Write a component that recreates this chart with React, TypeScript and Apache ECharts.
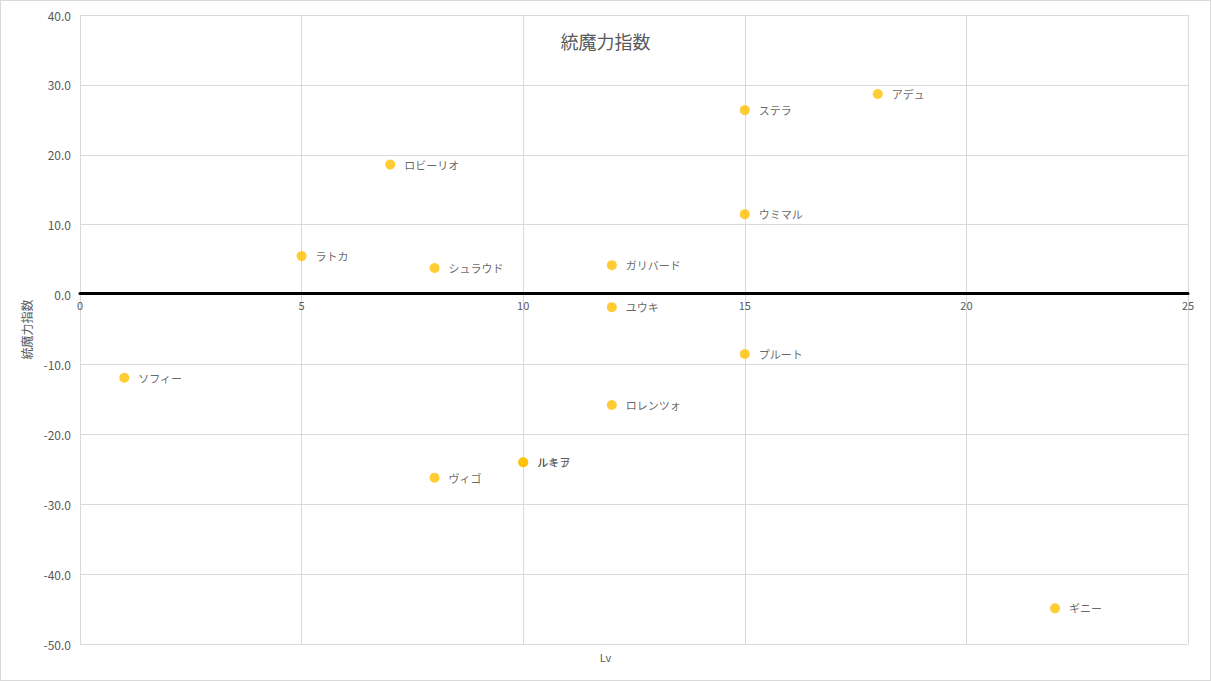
import { useEffect, useRef } from 'react';
import * as echarts from 'echarts';

const names = [
  'ソフィー', 'ラトカ', 'ロビーリオ', 'シュラウド', 'ヴィゴ', 'ルキア', 'ルミラ',
  'ガリバード', 'ユウキ', 'ロレンツォ', 'ステラ', 'ウミマル', 'プルート', 'アデュ', 'ギニー',
];
const levels = [1, 5, 7, 8, 8, 10, 10, 12, 12, 12, 15, 15, 15, 18, 22];
const scores = [-11.9, 5.5, 18.6, 3.8, -26.2, -24.0, -24.0, 4.2, -1.8, -15.8, 26.4, 11.5, -8.5, 28.7, -44.9];

const FONT = '"Noto Sans CJK JP", "Noto Sans", sans-serif';

const Y_MIN = -50;
const Y_MAX = 40;
const GRID_TOP = 14;
const GRID_BOTTOM = 36;
const HEIGHT = 681;

export default function App() {
  const chartRef = useRef<HTMLDivElement>(null);

  useEffect(() => {
    document.body.style.margin = '0';
    if (!chartRef.current) return;
    const chart = echarts.init(chartRef.current, undefined, { renderer: 'svg' });

    const gridLine = { show: true, lineStyle: { color: '#d9d9d9', width: 1 } };
    // move the x axis (line + labels) up to the y = 0 line
    const plotH = HEIGHT - GRID_TOP - GRID_BOTTOM;
    const zeroOffset = -(plotH * (0 - Y_MIN)) / (Y_MAX - Y_MIN);

    chart.setOption({
      animation: false,
      title: {
        text: '統魔力指数',
        left: 'center',
        top: 26,
        textStyle: { color: '#595959', fontSize: 18, fontWeight: 'normal', fontFamily: FONT },
      },
      grid: { left: 79, right: 22, top: GRID_TOP, bottom: GRID_BOTTOM },
      xAxis: {
        type: 'value',
        min: 0,
        max: 25,
        interval: 5,
        offset: zeroOffset,
        axisLine: { onZero: false, lineStyle: { color: '#000', width: 3 } },
        axisTick: { show: false },
        axisLabel: { color: '#595959', fontSize: 11, fontFamily: FONT, margin: 6 },
        splitLine: gridLine,
      },
      yAxis: {
        type: 'value',
        min: Y_MIN,
        max: Y_MAX,
        interval: 10,
        name: '統魔力指数',
        nameLocation: 'middle',
        nameGap: 46,
        nameTextStyle: { color: '#595959', fontSize: 12, fontFamily: FONT },
        axisLine: { show: true, onZero: false, lineStyle: { color: '#d9d9d9' } },
        axisTick: { show: false },
        axisLabel: {
          color: '#595959',
          fontSize: 12,
          fontFamily: FONT,
          margin: 9,
          formatter: (v: number) => v.toFixed(1),
        },
        splitLine: gridLine,
      },
      graphic: [
        {
          type: 'text',
          left: 'center',
          top: 650,
          style: { text: 'Lv', fill: '#595959', fontSize: 11, fontFamily: FONT },
        },
      ],
      series: [
        {
          type: 'scatter',
          symbol: 'circle',
          symbolSize: 10,
          itemStyle: { color: '#ffc000' },
          label: {
            show: true,
            position: 'right',
            distance: 9,
            formatter: '{b}',
            color: '#404040',
            fontSize: 11,
            fontFamily: FONT,
          },
          data: names.map((n, i) => ({ name: n, value: [levels[i], scores[i]] })),
        },
      ],
    });

    return () => chart.dispose();
  }, []);

  return (
    <div
      ref={chartRef}
      style={{
        width: 1211,
        height: HEIGHT,
        border: '1px solid #d9d9d9',
        boxSizing: 'border-box',
        background: '#fff',
      }}
    />
  );
}
